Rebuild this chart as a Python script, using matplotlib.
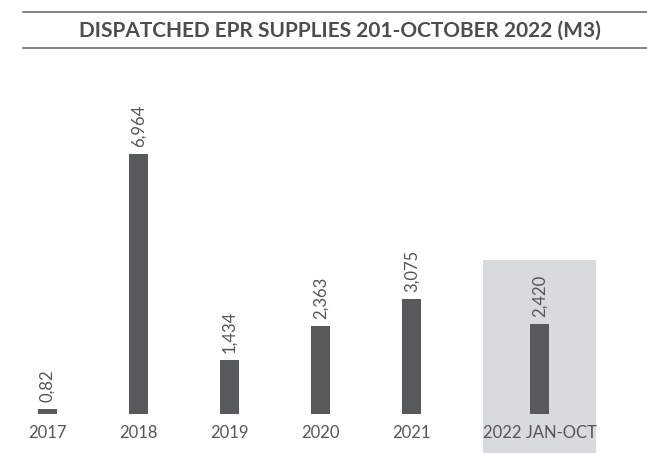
import matplotlib.pyplot as plt
from matplotlib.patches import Rectangle
from matplotlib.lines import Line2D

plt.rcParams['font.family'] = ['Lato', 'DejaVu Sans']

# data
categories = ['2017', '2018', '2019', '2020', '2021', '2022 JAN-OCT']
values = [130, 6964, 1434, 2363, 3075, 2420]
value_labels = ['0,82', '6,964', '1,434', '2,363', '3,075', '2,420']
title = 'DISPATCHED EPR SUPPLIES 201-OCTOBER 2022 (M3)'

W, H = 647, 453
fig = plt.figure(figsize=(W / 100, H / 100), dpi=100)

# axes laid out in pixels: baseline at y=414, one category step = 91 px
base_y = 414
top_y = 60
ax = fig.add_axes([0, (H - base_y) / H, 1, (base_y - top_y) / H])
step = 91.0
x0 = 47.5
xpos = [0, 1, 2, 3, 4, 5.41]
px_per_unit = 260 / 6964
ax.set_xlim(-x0 / step, (W - x0) / step)
ax.set_ylim(0, (base_y - top_y) / px_per_unit)
ax.axis('off')

bar_color = '#58595b'
text_color = '#555557'

# highlight box behind the last bar
hx = xpos[-1]
ax.add_patch(Rectangle((hx - 56.5 / step, -(H - base_y) / px_per_unit),
                       113 / step, (H - 260) / px_per_unit,
                       facecolor='#d9dadb', edgecolor='none', zorder=0, clip_on=False))

ax.bar(xpos, values, width=19 / step, color=bar_color, zorder=2)

for x, v, lab in zip(xpos, values, value_labels):
    ax.text(x, v + 7 / px_per_unit, lab, rotation=90, ha='center', va='bottom',
            fontsize=12, color=text_color)

for x, c in zip(xpos, categories):
    ax.text(x, -19 / px_per_unit, c, ha='center', va='center',
            fontsize=12, color=text_color, clip_on=False)

# title with rules
fig.text(340 / W, 1 - 31 / H, title, ha='center', va='center', fontsize=15,
         fontweight='bold', color='#4d4d4f')
for yy in (12, 48):
    fig.add_artist(Line2D([23 / W, 1], [1 - yy / H, 1 - yy / H], color='#6d6e70', lw=1.2))

fig.savefig('out.png', dpi=100)
